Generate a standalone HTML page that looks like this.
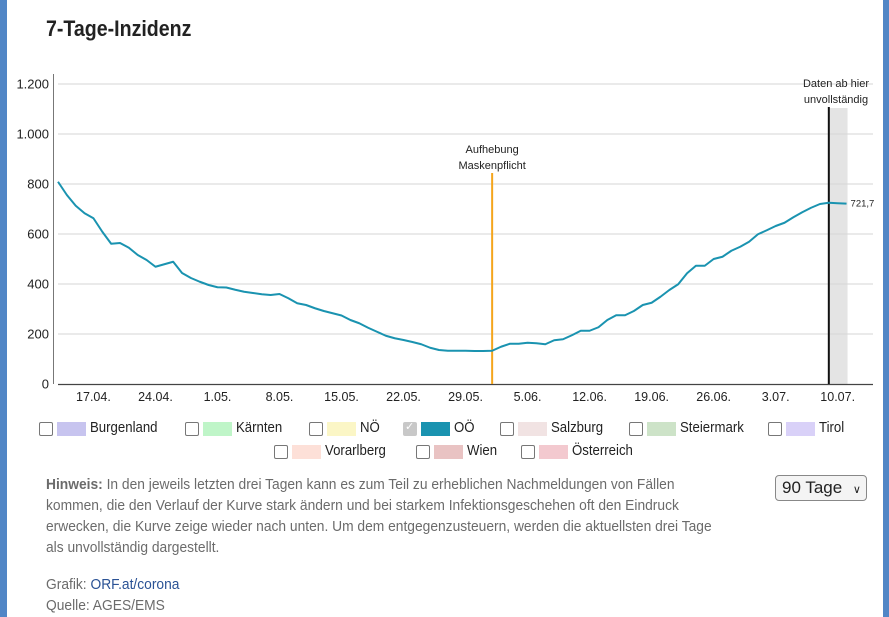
<!DOCTYPE html>
<html><head><meta charset="utf-8">
<style>
*{margin:0;padding:0;box-sizing:border-box}
body{width:889px;height:617px;overflow:hidden;background:#fff;position:relative;font-family:"Liberation Sans Narrow","Liberation Sans",sans-serif;color:#333}
.side{position:absolute;top:0;width:7px;height:617px;background:#5186c6}
.abs{position:absolute;white-space:nowrap}
.cb{position:absolute;width:14px;height:14px;border:1.5px solid #777;border-radius:2px;background:#fff}
.sw{position:absolute;width:29px;height:14px}
.lb{position:absolute;font-size:15px;color:#222;transform:scaleX(0.88);transform-origin:left top;white-space:nowrap}
.note{font-size:15px;color:#6b6b6b;line-height:21px;transform:scaleX(0.92);transform-origin:left top}
</style></head><body>
<div class="side" style="left:0"></div>
<div class="side" style="left:883px;width:6px"></div>
<div class="abs" style="left:46px;top:16px;font-size:22px;font-weight:bold;color:#222;transform:scaleX(0.89);transform-origin:left top">7-Tage-Inzidenz</div>
<svg class="abs" style="left:0;top:0" width="889" height="410" id="chart"></svg>

<div id="legend"></div>

<div class="abs note" style="left:46px;top:474px"><b>Hinweis:</b> In den jeweils letzten drei Tagen kann es zum Teil zu erheblichen Nachmeldungen von Fällen<br>kommen, die den Verlauf der Kurve stark ändern und bei starkem Infektionsgeschehen oft den Eindruck<br>erwecken, die Kurve zeige wieder nach unten. Um dem entgegenzusteuern, werden die aktuellsten drei Tage<br>als unvollständig dargestellt.</div>
<div class="abs note" style="left:46px;top:574px">Grafik: <span style="color:#2a5295">ORF.at/corona</span><br>Quelle: AGES/EMS</div>
<div class="abs" style="left:775px;top:475px;width:92px;height:26px;border:1px solid #888;border-radius:4px;background:#f4f4f4;font-size:17px;color:#222;padding:2px 0 0 6px">90 Tage <span style="font-size:11px;margin-left:6px">&#8744;</span></div>

<script>
const values=[809,756,713,683,663,609,561,564,545,516,496,469,479,489,444,424,409,396,387,386,377,369,364,359,356,360,343,323,316,303,292,283,274,256,243,225,209,193,183,176,168,159,145,136,133,133,133,132,132,133,149,161,161,165,163,159,175,179,195,213,213,227,256,275,275,292,316,325,349,376,399,443,473,473,500,509,533,549,569,599,615,632,645,667,687,705,720,725,723,721.7];
const yTicks=[0,200,400,600,800,1000,1200];
const yTickLabels=["0","200","400","600","800","1.000","1.200"];
const xTickIdx=[4,11,18,25,32,39,46,53,60,67,74,81,88];
const xTickLabels=["17.04.","24.04.","1.05.","8.05.","15.05.","22.05.","29.05.","5.06.","12.06.","19.06.","26.06.","3.07.","10.07."];
const maskIdx=49, incompleteIdx=87;
const lastLabel="721,7";

const NS="http://www.w3.org/2000/svg";
const svg=document.getElementById('chart');
const X0=58,DX=8.86,Y0=384,SY=0.25;
const xs=i=>X0+i*DX, ys=v=>Y0-v*SY;
function mk(t,a){const e=document.createElementNS(NS,t);for(const k in a)e.setAttribute(k,a[k]);svg.appendChild(e);return e;}
let band=mk('rect',{x:xs(incompleteIdx),y:ys(1200)+24,width:xs(values.length-1)-xs(incompleteIdx)+1,height:Y0-ys(1200)-24,fill:'#e4e4e4'});


yTicks.forEach((t,i)=>{
  if(t>0){const g=mk('line',{x1:X0,x2:873,y1:ys(t),y2:ys(t),stroke:'#d6d6d6','stroke-width':1});
  
  }
  const tx=mk('text',{x:49,y:ys(t)+4.5,'text-anchor':'end','font-size':13,fill:'#222'});
  tx.textContent=yTickLabels[i];
  
  
});
let ya=mk('line',{x1:53.5,x2:53.5,y1:74,y2:384,stroke:'#777','stroke-width':1});


let xa=mk('line',{x1:58,x2:873,y1:384.5,y2:384.5,stroke:'#444','stroke-width':1.2});


xTickIdx.forEach((d,i)=>{
  const tx=mk('text',{x:xs(d),y:401,'text-anchor':'middle','font-size':12.5,fill:'#222'});
  tx.textContent=xTickLabels[i];
  
  
});
let ml=mk('line',{x1:xs(maskIdx),x2:xs(maskIdx),y1:173,y2:384,stroke:'#f4a51c','stroke-width':2});


[["Aufhebung",153],["Maskenpflicht",169]].forEach(([s,y])=>{
  const t=mk('text',{x:xs(maskIdx),y:y,'text-anchor':'middle','font-size':11,fill:'#222'});t.textContent=s;
  
  
});
let bl=mk('line',{x1:xs(incompleteIdx),x2:xs(incompleteIdx),y1:107,y2:384,stroke:'#111','stroke-width':2});


[["Daten ab hier",87],["unvollständig",103]].forEach(([s,y])=>{
  const t=mk('text',{x:836,y:y,'text-anchor':'middle','font-size':11,fill:'#222'});t.textContent=s;
  
  
});
let p=mk('polyline',{points:values.map((v,i)=>xs(i)+','+ys(v)).join(' '),fill:'none',stroke:'#1a93b0','stroke-width':2,'stroke-linejoin':'round'});


let lv=mk('text',{x:xs(values.length-1)+4,y:ys(values[values.length-1])+3,'font-size':9.5,fill:'#222'});
lv.textContent=lastLabel;



const legendItems=[["Burgenland","#c7c4ef",39,422,false],["Kärnten","#bff5c8",185,422,false],["NÖ","#fbf6c6",309,422,false],["OÖ","#1a93b0",403,422,true],["Salzburg","#f1e3e3",500,422,false],["Steiermark","#cde3c8",629,422,false],["Tirol","#d9d1f8",768,422,false],["Vorarlberg","#fde0d8",274,445,false],["Wien","#e9c3c3",416,445,false],["Österreich","#f3c9cf",521,445,false]];
const lg=document.getElementById('legend');
legendItems.forEach(([n,c,x,y,on])=>{
  const w=document.createElement('div');
  
  
  w.innerHTML=`<div class="cb" style="left:${x}px;top:${y}px;${on?'background:#c8c8c8;border-color:#c8c8c8':''}">${on?'<span style="position:absolute;left:1px;top:-3px;font-size:11px;color:#fff">&#10003;</span>':''}</div><div class="sw" style="left:${x+18}px;top:${y}px;background:${c}"></div><div class="lb" style="left:${x+51}px;top:${y-3}px">${n}</div>`;
  lg.appendChild(w);
});
</script>
</body></html>
